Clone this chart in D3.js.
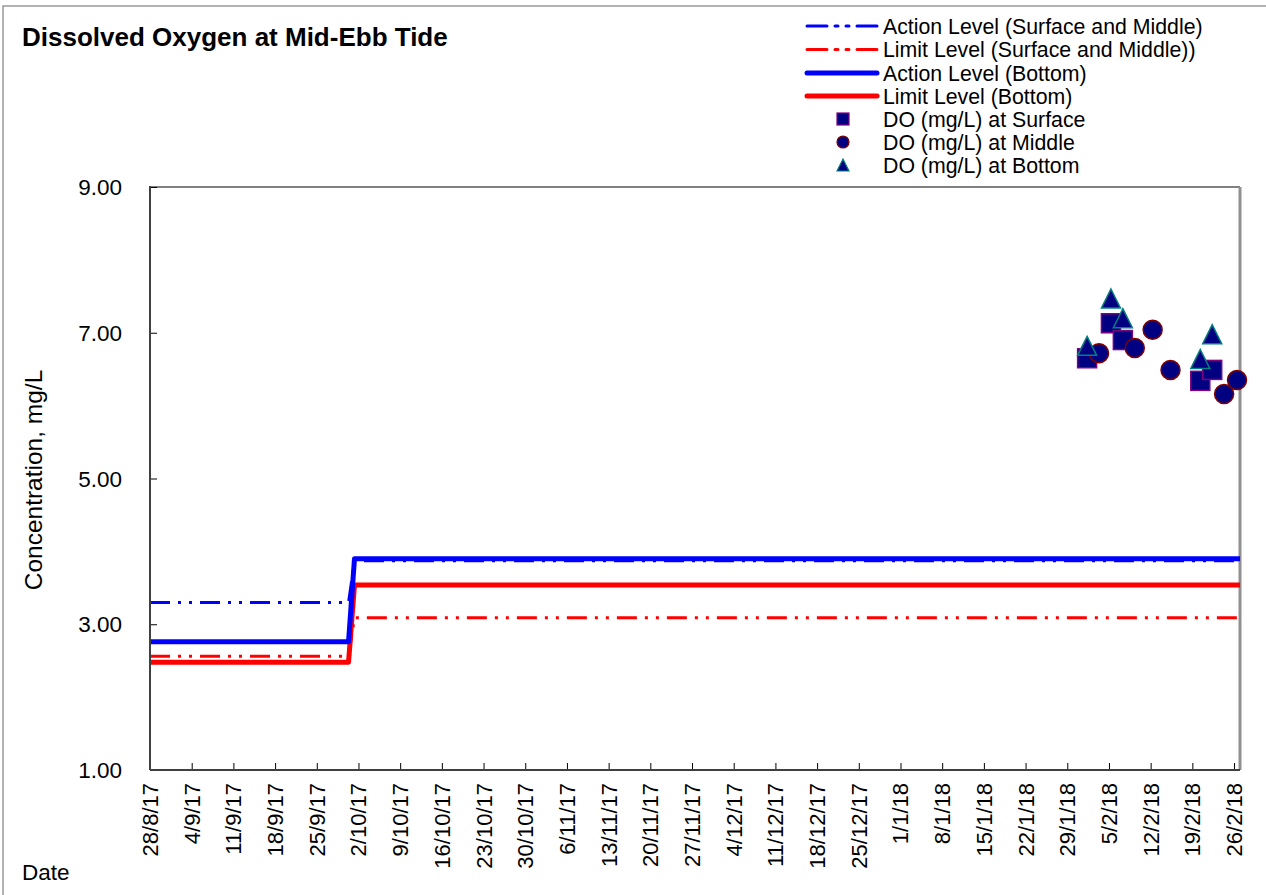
<!DOCTYPE html>
<html><head><meta charset="utf-8">
<script src="https://cdn.jsdelivr.net/npm/d3@7"></script>
<style>body{margin:0;background:#fff}svg{display:block}text{font-family:"Liberation Sans",Arial,sans-serif;fill:#000}</style>
</head><body><svg id="c" width="1266" height="895"></svg>
<script>
// ---- data ----
const tickDates = ["2017-08-28","2017-09-04","2017-09-11","2017-09-18","2017-09-25","2017-10-02","2017-10-09","2017-10-16","2017-10-23","2017-10-30","2017-11-06","2017-11-13","2017-11-20","2017-11-27","2017-12-04","2017-12-11","2017-12-18","2017-12-25","2018-01-01","2018-01-08","2018-01-15","2018-01-22","2018-01-29","2018-02-05","2018-02-12","2018-02-19","2018-02-26"];
const yTicks = [1, 3, 5, 7, 9];
const levelDates = ["2017-08-28","2017-09-30T08:00","2017-10-01T08:00","2018-02-27"];
const actionSM = [3.30, 3.30, 3.87, 3.87];
const limitSM = [2.56, 2.56, 3.09, 3.09];
const actionBot = [2.76, 2.76, 3.90, 3.90];
const limitBot = [2.48, 2.48, 3.54, 3.54];
const surfDates = ["2018-02-01T08:00","2018-02-05T08:00","2018-02-07T08:00","2018-02-20T08:00","2018-02-22T08:00"];
const surfVals = [6.65, 7.13, 6.90, 6.34, 6.49];
const midDates = ["2018-02-03T08:00","2018-02-09T08:00","2018-02-12T08:00","2018-02-15T08:00","2018-02-24T08:00","2018-02-26T12:00"];
const midVals = [6.72, 6.79, 7.04, 6.49, 6.16, 6.35];
const botDates = ["2018-02-01T08:00","2018-02-05T08:00","2018-02-07T08:00","2018-02-20T08:00","2018-02-22T08:00"];
const botVals = [6.82, 7.47, 7.20, 6.64, 6.98];
const legendLabels = ["Action Level (Surface and Middle)","Limit Level (Surface and Middle))","Action Level (Bottom)","Limit Level (Bottom)","DO (mg/L) at Surface","DO (mg/L) at Middle","DO (mg/L) at Bottom"];

// ---- layout ----
const svg = d3.select("#c");
const L = 150, R = 1240, T = 187, B = 770;
const parse = s => new Date(s + (s.length === 10 ? "T00:00" : ""));
const x = d3.scaleTime().domain([parse("2017-08-28"), parse("2018-02-27")]).range([L, R]);
const y = d3.scaleLinear().domain([1, 9]).range([B, T]);

// outer border
svg.append("rect").attr("x",3).attr("y",6).attr("width",1300).attr("height",900)
  .attr("fill","none").attr("stroke","#808080").attr("stroke-width",1.2);

// plot frame
svg.append("line").attr("x1",L).attr("x2",R).attr("y1",T).attr("y2",T).attr("stroke","#808080").attr("stroke-width",2);
svg.append("line").attr("x1",R).attr("x2",R).attr("y1",T).attr("y2",B).attr("stroke","#909090").attr("stroke-width",3);

// level lines
const line = d3.line().x(d => x(d[0])).y(d => y(d[1]));
function lvl(vals, color, w, dash){
  svg.append("path").datum(levelDates.map((d,i)=>[parse(d), vals[i]]))
    .attr("d", line).attr("fill","none").attr("stroke",color).attr("stroke-width",w)
    .attr("stroke-dasharray", dash || null).attr("stroke-linejoin","round");
}
const dd = "20,8,3,8,3,8";
lvl(limitSM, "#ff0000", 3, dd);
lvl(actionSM, "#0000ff", 3, dd);
lvl(limitBot, "#ff0000", 5);
lvl(actionBot, "#0000ff", 5);

// axes
const yAxis = svg.append("g").attr("transform",`translate(${L},0)`)
  .call(d3.axisRight(y).tickValues(yTicks).tickSize(7).tickFormat(""));
yAxis.select(".domain").remove();
yAxis.selectAll("line").attr("stroke","#000");
svg.selectAll(".ylab").data(yTicks).enter().append("text")
  .attr("x",122).attr("y",d=>y(d)+8).attr("text-anchor","end").attr("font-size",22.5).text(d=>d3.format(".2f")(d));

const xAxis = svg.append("g").attr("transform",`translate(0,${B})`)
  .call(d3.axisTop(x).tickValues(tickDates.map(parse)).tickSize(7).tickFormat(""));
xAxis.select(".domain").remove();
xAxis.selectAll("line").attr("stroke","#000");
const fmt = d => `${d.getDate()}/${d.getMonth()+1}/${String(d.getFullYear()).slice(2)}`;
svg.selectAll(".xlab").data(tickDates.map(parse)).enter().append("text")
  .attr("transform", d => `translate(${x(d)+8},${783}) rotate(-90)`)
  .attr("text-anchor","end").attr("font-size",22).text(fmt);

svg.append("line").attr("x1",L).attr("x2",L).attr("y1",T-1).attr("y2",B).attr("stroke","#404040").attr("stroke-width",2);
svg.append("line").attr("x1",L).attr("x2",R).attr("y1",B).attr("y2",B).attr("stroke","#404040").attr("stroke-width",2);

// markers
const sq = 19, cr = 9.5;
svg.selectAll(".surf").data(surfDates.map((d,i)=>[parse(d),surfVals[i]])).enter().append("rect")
  .attr("x",d=>x(d[0])-sq/2).attr("y",d=>y(d[1])-sq/2).attr("width",sq).attr("height",sq)
  .attr("fill","#000080").attr("stroke","#800080").attr("stroke-width",1.5);
svg.selectAll(".mid").data(midDates.map((d,i)=>[parse(d),midVals[i]])).enter().append("circle")
  .attr("cx",d=>x(d[0])).attr("cy",d=>y(d[1])).attr("r",cr)
  .attr("fill","#000080").attr("stroke","#800000").attr("stroke-width",1.5);
const tri = (cx,cy,s) => `M${cx},${cy-s/2}L${cx+s/2},${cy+s/2}L${cx-s/2},${cy+s/2}Z`;
svg.selectAll(".bot").data(botDates.map((d,i)=>[parse(d),botVals[i]])).enter().append("path")
  .attr("d",d=>tri(x(d[0]),y(d[1]),19))
  .attr("fill","#000080").attr("stroke","#008080").attr("stroke-width",1.5);

// title & labels
svg.append("text").attr("x",22).attr("y",46).attr("font-size",26).attr("font-weight","bold").text("Dissolved Oxygen at Mid-Ebb Tide");
svg.append("text").attr("transform","translate(42,480) rotate(-90)").attr("text-anchor","middle").attr("font-size",24.5).text("Concentration, mg/L");
svg.append("text").attr("x",22).attr("y",880).attr("font-size",22.5).text("Date");

// legend
const ly = [26,49.5,73,96,119,142,165];
const lg = svg.append("g");
ly.forEach((yy,i)=>{
  lg.append("text").attr("x",883).attr("y",yy+7.5).attr("font-size",21.3).text(legendLabels[i]);
});
[[0,"#0000ff",3,dd],[1,"#ff0000",3,dd],[2,"#0000ff",5,null],[3,"#ff0000",5,null]].forEach(([i,c,w,da])=>{
  lg.append("line").attr("x1",807).attr("x2",877).attr("y1",ly[i]).attr("y2",ly[i])
    .attr("stroke",c).attr("stroke-width",w).attr("stroke-dasharray",da?"20,8,3,8,3,8":null).attr("stroke-linecap","round");
});
lg.append("rect").attr("x",837).attr("y",ly[4]-6).attr("width",12).attr("height",12).attr("fill","#000080").attr("stroke","#800080").attr("stroke-width",1.2);
lg.append("circle").attr("cx",843).attr("cy",ly[5]).attr("r",6).attr("fill","#000080").attr("stroke","#800000").attr("stroke-width",1.2);
lg.append("path").attr("d",tri(843,ly[6],12)).attr("fill","#000080").attr("stroke","#008080").attr("stroke-width",1.2);
</script></body></html>
